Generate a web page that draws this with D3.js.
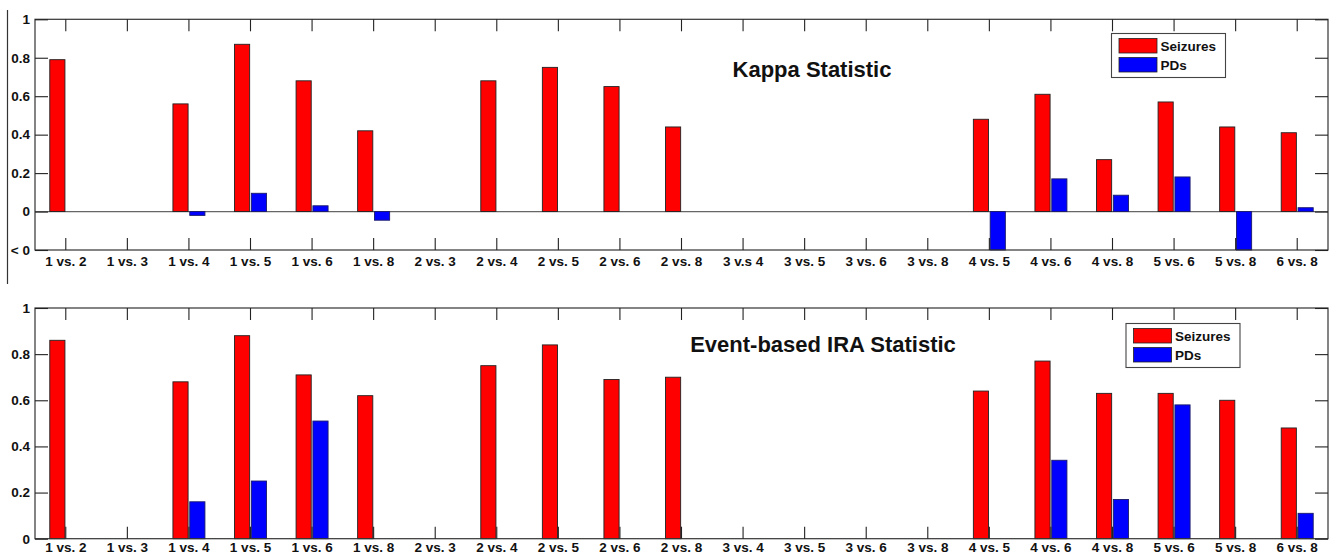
<!DOCTYPE html>
<html>
<head>
<meta charset="utf-8">
<script src="https://cdn.jsdelivr.net/npm/d3@7"></script>
<style>
  body { margin: 0; background: #fff; }
  svg { display: block; font-family: "Liberation Sans", Arial, sans-serif; }
  .axis text { font-family: "Liberation Sans", Arial, sans-serif; font-weight: bold; font-size: 13.5px; fill: #111; }
  .axis line { stroke: #222; }
  .axis path { display: none; }
</style>
</head>
<body>
<svg id="chart" width="1333" height="556"></svg>
<script>
// pair labels (the kappa panel has the "3 v.s 4" typo from the original)
var kappaPairs = ["1 vs. 2", "1 vs. 3", "1 vs. 4", "1 vs. 5", "1 vs. 6", "1 vs. 8", "2 vs. 3",
  "2 vs. 4", "2 vs. 5", "2 vs. 6", "2 vs. 8", "3 v.s 4", "3 vs. 5", "3 vs. 6", "3 vs. 8",
  "4 vs. 5", "4 vs. 6", "4 vs. 8", "5 vs. 6", "5 vs. 8", "6 vs. 8"];
var iraPairs = ["1 vs. 2", "1 vs. 3", "1 vs. 4", "1 vs. 5", "1 vs. 6", "1 vs. 8", "2 vs. 3",
  "2 vs. 4", "2 vs. 5", "2 vs. 6", "2 vs. 8", "3 vs. 4", "3 vs. 5", "3 vs. 6", "3 vs. 8",
  "4 vs. 5", "4 vs. 6", "4 vs. 8", "5 vs. 6", "5 vs. 8", "6 vs. 8"];

var seriesNames = ["Seizures", "PDs"];

// kappa statistic (values below zero are clipped at the "< 0" line)
var kappaSeizures = [0.79, 0, 0.56, 0.87, 0.68, 0.42, 0, 0.68, 0.75, 0.65, 0.44, 0, 0, 0, 0,
  0.48, 0.61, 0.27, 0.57, 0.44, 0.41];
var kappaPDs = [0, 0, -0.02, 0.095, 0.03, -0.045, 0, 0, 0, 0, 0, 0, 0, 0, 0,
  -0.2, 0.17, 0.085, 0.18, -0.2, 0.02];

// event-based IRA statistic
var iraSeizures = [0.86, 0, 0.68, 0.88, 0.71, 0.62, 0, 0.75, 0.84, 0.69, 0.70, 0, 0, 0, 0,
  0.64, 0.77, 0.63, 0.63, 0.60, 0.48];
var iraPDs = [0, 0, 0.16, 0.25, 0.51, 0, 0, 0, 0, 0, 0, 0, 0, 0, 0,
  0, 0.34, 0.17, 0.58, 0, 0.11];

var kappaTicks = [-0.2, 0, 0.2, 0.4, 0.6, 0.8, 1];
var kappaTickLabels = ["< 0", "0", "0.2", "0.4", "0.6", "0.8", "1"];
var iraTicks = [0, 0.2, 0.4, 0.6, 0.8, 1];
var iraTickLabels = ["0", "0.2", "0.4", "0.6", "0.8", "1"];

var colors = { "Seizures": "#ff0000", "PDs": "#0000ff" };

var svg = d3.select("#chart");

// stray frame line on the left edge of the original figure
svg.append("line")
  .attr("x1", 7.5).attr("x2", 7.5)
  .attr("y1", 10).attr("y2", 284)
  .attr("stroke", "#333").attr("stroke-width", 1.2);

var left = 35, right = 1328;

function drawPanel(opt) {
  var x = d3.scaleBand()
    .domain(opt.pairs)
    .range([left, right])
    .padding(0);

  var inner = d3.scaleBand()
    .domain(seriesNames)
    .range([-16, 16])
    .paddingInner(0.1);

  var y = d3.scaleLinear()
    .domain(opt.domain)
    .range([opt.bottom, opt.top])
    .clamp(true);

  var g = svg.append("g");

  var rows = opt.pairs.map(function(p, i) {
    return { pair: p, values: [
      { key: "Seizures", value: opt.seizures[i] },
      { key: "PDs", value: opt.pds[i] }
    ] };
  });

  // baseline
  if (opt.domain[0] < 0) {
    g.append("line")
      .attr("x1", left).attr("x2", right)
      .attr("y1", y(0)).attr("y2", y(0))
      .attr("stroke", "#666").attr("stroke-width", 1.2);
  }

  var groups = g.selectAll(".grp")
    .data(rows)
    .enter().append("g")
    .attr("class", "grp")
    .attr("transform", function(d) { return "translate(" + (x(d.pair) + x.bandwidth() / 2) + ",0)"; });

  groups.selectAll("rect")
    .data(function(d) { return d.values.filter(function(v) { return v.value !== 0; }); })
    .enter().append("rect")
    .attr("x", function(d) { return inner(d.key); })
    .attr("width", inner.bandwidth())
    .attr("y", function(d) { return Math.min(y(d.value), y(0)); })
    .attr("height", function(d) { return Math.abs(y(d.value) - y(0)); })
    .attr("fill", function(d) { return colors[d.key]; })
    .attr("stroke", function(d) { return d.key === "Seizures" ? "#222" : "#1a1a6a"; })
    .attr("stroke-width", 0.9);

  // box
  g.append("rect")
    .attr("x", left).attr("y", opt.top)
    .attr("width", right - left).attr("height", opt.bottom - opt.top)
    .attr("fill", "none").attr("stroke", "#333").attr("stroke-width", 1.2);

  var tl = 13;
  g.append("g").attr("class", "axis")
    .attr("transform", "translate(" + left + ",0)")
    .call(d3.axisLeft(y).tickValues(opt.ticks).tickSize(-tl).tickPadding(5)
      .tickFormat(function(d, i) { return opt.tickLabels[i]; }));

  g.append("g").attr("class", "axis")
    .attr("transform", "translate(" + right + ",0)")
    .call(d3.axisRight(y).tickValues(opt.ticks).tickSize(-tl).tickFormat(""));

  g.append("g").attr("class", "axis")
    .attr("transform", "translate(0," + opt.top + ")")
    .call(d3.axisTop(x).tickSize(-12).tickFormat(""));

  g.append("g").attr("class", "axis")
    .attr("transform", "translate(0," + opt.bottom + ")")
    .call(d3.axisBottom(x).tickSize(-12).tickPadding(opt.labelPad));

  g.selectAll(".axis line").attr("stroke-width", 1.1);

  g.append("text")
    .attr("x", opt.titleX).attr("y", opt.titleY)
    .attr("text-anchor", "middle")
    .attr("font-size", 22).attr("font-weight", "bold").attr("fill", "#111")
    .text(opt.title);

  // legend
  var lg = g.append("g").attr("transform", "translate(" + opt.legendX + "," + opt.legendY + ")");
  lg.append("rect")
    .attr("width", 114).attr("height", 44)
    .attr("fill", "#fff").attr("stroke", "#444").attr("stroke-width", 1.1);
  seriesNames.forEach(function(s, i) {
    lg.append("rect")
      .attr("x", 7.5).attr("y", 5 + i * 19)
      .attr("width", 38).attr("height", 14.5)
      .attr("fill", colors[s]).attr("stroke", "#222").attr("stroke-width", 0.8);
    lg.append("text")
      .attr("x", 49).attr("y", 12.5 + i * 19).attr("dy", "0.35em")
      .attr("font-size", 13.5).attr("font-weight", "bold").attr("fill", "#111")
      .text(s);
  });
}

drawPanel({
  pairs: kappaPairs, seizures: kappaSeizures, pds: kappaPDs,
  domain: [-0.2, 1], ticks: kappaTicks, tickLabels: kappaTickLabels,
  top: 19.3, bottom: 250, labelPad: 6,
  title: "Kappa Statistic", titleX: 812, titleY: 77,
  legendX: 1111.5, legendY: 33.5
});

drawPanel({
  pairs: iraPairs, seizures: iraSeizures, pds: iraPDs,
  domain: [0, 1], ticks: iraTicks, tickLabels: iraTickLabels,
  top: 308, bottom: 538.7, labelPad: 4,
  title: "Event-based IRA Statistic", titleX: 823, titleY: 352,
  legendX: 1126, legendY: 323.5
});
</script>
</body>
</html>
